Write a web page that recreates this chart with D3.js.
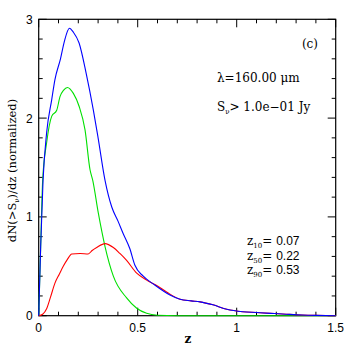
<!DOCTYPE html>
<html>
<head>
<meta charset="utf-8">
<script src="https://cdn.jsdelivr.net/npm/d3@7"></script>
<style>
  body { margin: 0; background: #fff; }
  text { font-family: "Liberation Sans", Arial, sans-serif; }
  .serif { font-family: "DejaVu Serif", "Liberation Serif", serif; }
</style>
</head>
<body>
<svg width="354" height="354"></svg>
<script>
// redshift distributions
const blueZ = [0, 0.01, 0.022, 0.04, 0.066, 0.082, 0.11, 0.13, 0.155, 0.175, 0.204, 0.24, 0.276, 0.30, 0.335, 0.369, 0.40, 0.427, 0.46, 0.486, 0.528, 0.58, 0.663, 0.714, 0.77, 0.815, 0.88, 0.95, 1.03, 1.1, 1.17, 1.25, 1.33, 1.4, 1.5];
const blueY = [0, 0.7, 1.37, 1.85, 2.19, 2.39, 2.6, 2.78, 2.91, 2.87, 2.76, 2.45, 2.08, 1.8, 1.37, 1.10, 0.96, 0.83, 0.68, 0.51, 0.40, 0.32, 0.21, 0.166, 0.15, 0.14, 0.11, 0.065, 0.04, 0.032, 0.024, 0.015, 0.007, 0.003, 0];

const greenZ = [0, 0.01, 0.02, 0.04, 0.066, 0.091, 0.108, 0.125, 0.145, 0.175, 0.204, 0.234, 0.259, 0.273, 0.301, 0.335, 0.377, 0.444, 0.495, 0.545, 0.6, 0.7, 0.9, 1.2, 1.5];
const greenY = [0, 0.7, 1.37, 1.75, 2.02, 2.08, 2.22, 2.28, 2.31, 2.25, 2.12, 1.88, 1.48, 1.37, 1.04, 0.70, 0.40, 0.18, 0.075, 0.024, 0.005, 0, 0, 0, 0];

const redZ = [0, 0.02, 0.04, 0.06, 0.082, 0.104, 0.124, 0.145, 0.167, 0.209, 0.25, 0.27, 0.293, 0.335, 0.377, 0.41, 0.444, 0.495, 0.545, 0.6, 0.646, 0.714, 0.77, 0.815, 0.88, 0.95, 1.03, 1.1, 1.17, 1.25, 1.33, 1.4, 1.5];
const redY = [0, 0.015, 0.07, 0.19, 0.33, 0.42, 0.50, 0.57, 0.625, 0.63, 0.625, 0.66, 0.69, 0.73, 0.69, 0.63, 0.56, 0.43, 0.36, 0.3, 0.24, 0.166, 0.15, 0.14, 0.11, 0.065, 0.04, 0.032, 0.024, 0.015, 0.007, 0.003, 0];

const xTicks = [0, 0.5, 1, 1.5];
const xTickLabels = ["0", "0.5", "1", "1.5"];
const yTicks = [0, 1, 2, 3];
const zLabels = [["10", "0.07"], ["50", "0.22"], ["90", "0.53"]];

const svg = d3.select("svg");
const pL = 38.7, pR = 335.7, pT = 19.3, pB = 315.7;

const x = d3.scaleLinear().domain([0, 1.5]).range([pL, pR]);
const y = d3.scaleLinear().domain([0, 3]).range([pB, pT]);

// frame
svg.append("rect")
  .attr("x", pL).attr("y", pT)
  .attr("width", pR - pL).attr("height", pB - pT)
  .attr("fill", "none").attr("stroke", "#000").attr("stroke-width", 1.2);

// ticks on all four sides, pointing inward
const xMinor = d3.range(0, 1.5001, 0.1);
const yMinor = d3.range(0, 3.0001, 0.2);
const isMajor = (v, step) => Math.abs(v / step - Math.round(v / step)) < 1e-6;

const tg = svg.append("g").attr("stroke", "#000").attr("stroke-width", 1);
xMinor.forEach(v => {
  const len = isMajor(v, 0.5) ? 8 : 4;
  tg.append("line").attr("x1", x(v)).attr("x2", x(v)).attr("y1", pB).attr("y2", pB - len);
  tg.append("line").attr("x1", x(v)).attr("x2", x(v)).attr("y1", pT).attr("y2", pT + len);
});
yMinor.forEach(v => {
  const len = isMajor(v, 1) ? 8 : 4;
  tg.append("line").attr("y1", y(v)).attr("y2", y(v)).attr("x1", pL).attr("x2", pL + len);
  tg.append("line").attr("y1", y(v)).attr("y2", y(v)).attr("x1", pR).attr("x2", pR - len);
});

// tick labels
svg.selectAll(".xl").data(xTicks).join("text")
  .attr("x", d => x(d)).attr("y", pB + 16)
  .attr("text-anchor", "middle").attr("font-size", 12)
  .text((d, i) => xTickLabels[i]);

svg.selectAll(".yl").data(yTicks).join("text")
  .attr("x", pL - 6).attr("y", d => y(d) + 4.5)
  .attr("text-anchor", "end").attr("font-size", 12)
  .text(d => d);

// axis titles
svg.append("text").attr("class", "serif")
  .attr("x", 188).attr("y", 343)
  .attr("text-anchor", "middle").attr("font-size", 12).attr("font-weight", "bold")
  .text("z");

const yt = svg.append("text").attr("class", "serif")
  .attr("transform", `translate(16,${(pT + pB) / 2 + 3}) rotate(-90)`)
  .attr("text-anchor", "middle").attr("font-size", 11.5);
yt.append("tspan").text("dN(>S");
yt.append("tspan").attr("font-size", 7).attr("dy", 3).text("ν");
yt.append("tspan").attr("dy", -3).text(")/dz (normalized)");

// curves
const line = d3.line().x(d => x(d[0])).y(d => y(d[1])).curve(d3.curveMonotoneX);
const series = [
  { z: greenZ, v: greenY, color: "#00e000" },
  { z: redZ, v: redY, color: "#ff0000" },
  { z: blueZ, v: blueY, color: "#0000ff" }
];
svg.append("g").selectAll("path").data(series).join("path")
  .attr("d", s => line(s.z.map((z, i) => [z, s.v[i]])))
  .attr("fill", "none").attr("stroke", s => s.color).attr("stroke-width", 1.1);

// annotations
svg.append("text").attr("class", "serif")
  .attr("x", 318).attr("y", 48).attr("text-anchor", "end").attr("font-size", 12)
  .text("(c)");

svg.append("text").attr("class", "serif")
  .attr("x", 217).attr("y", 82).attr("font-size", 12)
  .text("λ=160.00 μm");

const st = svg.append("text").attr("class", "serif")
  .attr("x", 217).attr("y", 111).attr("font-size", 12);
st.append("tspan").text("S");
st.append("tspan").attr("font-size", 7).attr("dy", 3).text("ν");
st.append("tspan").attr("dy", -3).text("> 1.0e\u221201 Jy");

zLabels.forEach((d, i) => {
  const t = svg.append("text").attr("x", 247).attr("y", 245 + i * 14.7).attr("font-size", 12);
  t.append("tspan").attr("class", "serif").text("z");
  t.append("tspan").attr("class", "serif").attr("font-size", 7).attr("dy", 3).text(d[0]);
  t.append("tspan").attr("class", "serif").attr("dy", -3).text("= ");
  t.append("tspan").text(d[1]);
});
</script>
</body>
</html>
